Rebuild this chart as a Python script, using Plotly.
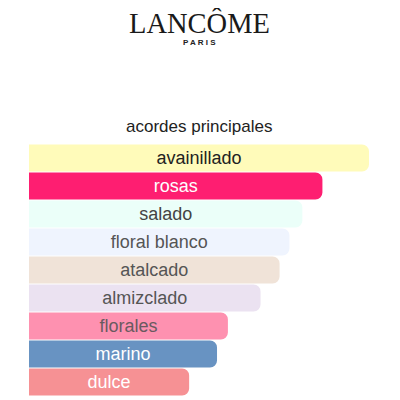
import plotly.graph_objects as go

# main accords (top to bottom) and their relative strength (%)
accords = ["avainillado", "rosas", "salado", "floral blanco", "atalcado",
           "almizclado", "florales", "marino", "dulce"]
strength = [100, 86.3, 80.4, 76.6, 73.7, 68.1, 58.5, 55.3, 47.1]

# styles
bar_colors = ["#FFFBBA", "#FE1E71", "#EBFFF9", "#EFF4FE", "#F0E3D8",
              "#EBE2F1", "#FE91B0", "#6893C2", "#F69194"]
text_colors = ["#222222", "#FFFFFF", "#444444", "#555555", "#555555",
               "#555555", "#6A5A60", "#FFFFFF", "#FFFFFF"]

fig = go.Figure()
fig.add_trace(go.Bar(
    x=strength,
    y=accords,
    orientation="h",
    text=accords,
    textposition="inside",
    insidetextanchor="middle",
    textangle=0,
    constraintext="none",
    insidetextfont=dict(family="Liberation Sans, Arial, sans-serif",
                        size=18, color=text_colors),
    marker=dict(color=bar_colors, line=dict(width=0), cornerradius=7),
    hoverinfo="skip",
))

# page has an 8px body margin, so margins are shifted by 8px
fig.update_layout(
    width=400, height=400,
    margin=dict(l=21, r=39, t=136, b=12),
    paper_bgcolor="white",
    plot_bgcolor="white",
    bargap=0.04,
    showlegend=False,
    xaxis=dict(range=[0, 100], visible=False, fixedrange=True),
    yaxis=dict(autorange="reversed", visible=False, fixedrange=True),
    annotations=[
        dict(text="LANCÔME", x=0.5, y=1.482, xref="paper", yref="paper",
             xanchor="center", yanchor="middle", showarrow=False,
             font=dict(family="Liberation Serif, Times New Roman, serif",
                       size=28.5, color="#1a1a1a")),
        dict(text="<b>P A R I S</b>", x=0.5, y=1.402, xref="paper", yref="paper",
             xanchor="center", yanchor="middle", showarrow=False,
             font=dict(family="Liberation Sans, Arial, sans-serif",
                       size=8, color="#222222")),
        dict(text="acordes principales", x=0.5, y=1.071, xref="paper", yref="paper",
             xanchor="center", yanchor="middle", showarrow=False,
             font=dict(family="Liberation Sans, Arial, sans-serif",
                       size=17, color="#222222")),
    ],
)

fig.write_html("out.html")
